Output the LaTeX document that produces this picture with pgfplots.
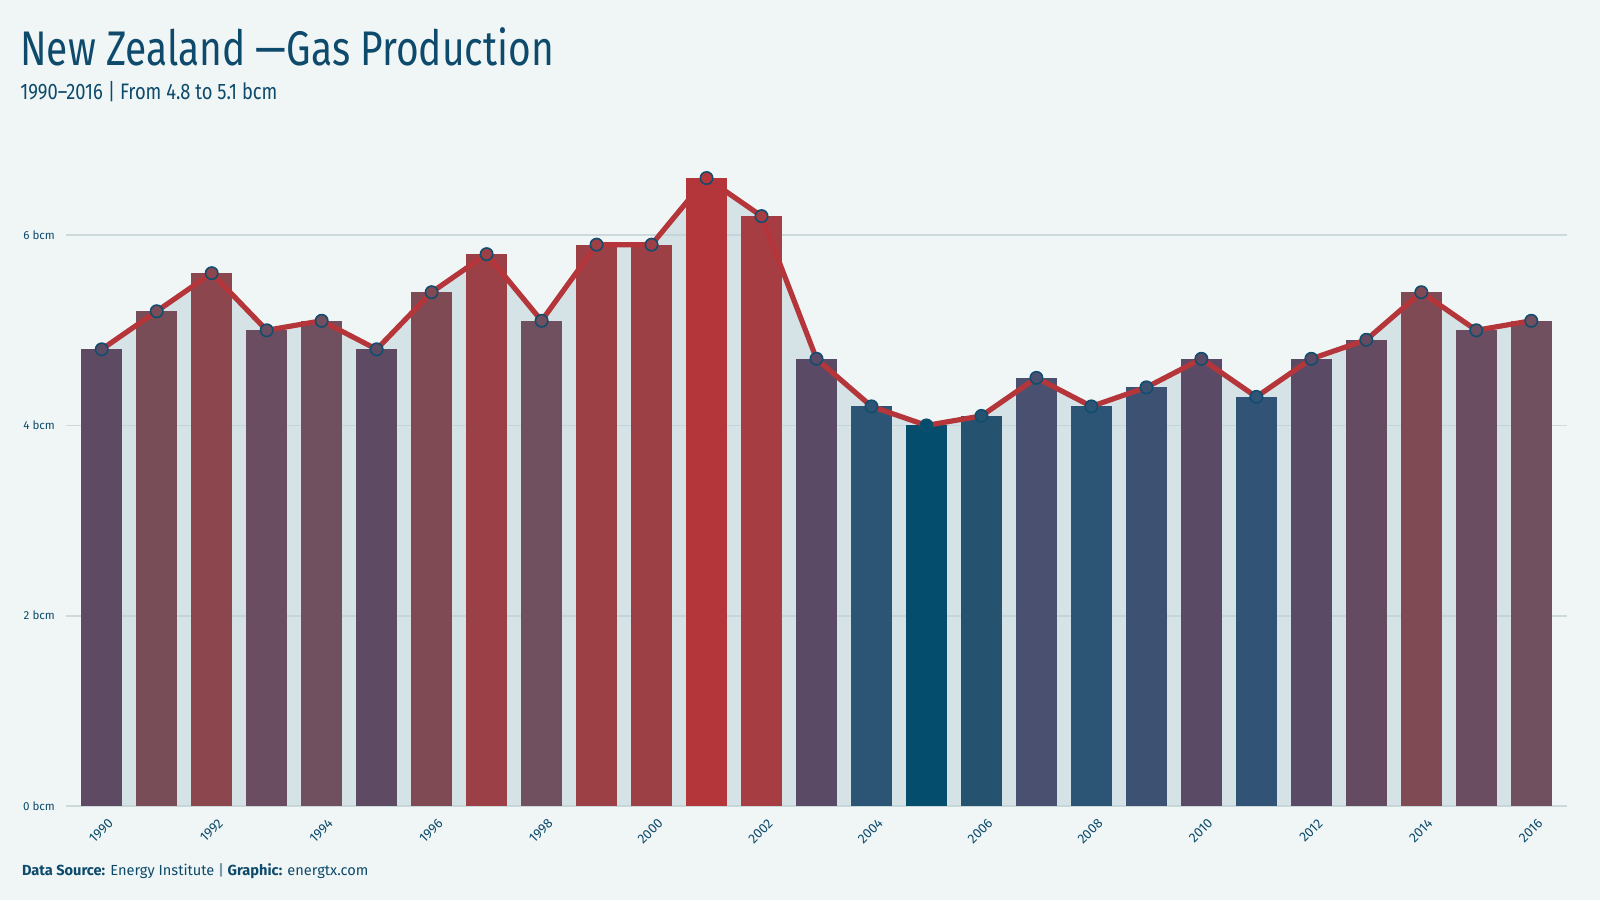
\documentclass[border=0pt]{standalone}
\usepackage{pgfplots}
\pgfplotsset{compat=1.18}
\usepackage{fontspec}
\setmainfont{Fira Sans}
\newfontfamily\titlefont[FakeStretch=0.80]{Fira Sans}
\newfontfamily\subfont[FakeStretch=0.82]{Fira Sans}
\definecolor{bg}{HTML}{F0F6F6}
\definecolor{txt}{HTML}{0D4A6B}
\definecolor{gridc}{HTML}{CDD9DB}
\definecolor{areac}{HTML}{BCD2D8}
\definecolor{linec}{HTML}{B5363A}
\definecolor{edgec}{HTML}{114D6E}
\definecolor{v40}{HTML}{054D6C}
\definecolor{v41}{HTML}{24526F}
\definecolor{v42}{HTML}{2C5474}
\definecolor{v43}{HTML}{315375}
\definecolor{v44}{HTML}{3D5272}
\definecolor{v45}{HTML}{4A5070}
\definecolor{v47}{HTML}{5A4A66}
\definecolor{v48}{HTML}{5E4B63}
\definecolor{v49}{HTML}{644B62}
\definecolor{v50}{HTML}{6A4D60}
\definecolor{v51}{HTML}{704F5E}
\definecolor{v52}{HTML}{784D58}
\definecolor{v54}{HTML}{7F4A54}
\definecolor{v56}{HTML}{8C464D}
\definecolor{v58}{HTML}{9A4046}
\definecolor{v59}{HTML}{9C4046}
\definecolor{v62}{HTML}{A63D43}
\definecolor{v66}{HTML}{B5363A}
\begin{document}
\begin{tikzpicture}
\path[use as bounding box, fill=bg] (0,0) rectangle (800pt,450pt);
\node[anchor=base west, inner sep=0pt, text=txt, font=\titlefont\fontsize{24.3}{28}\selectfont] at (10pt,417pt) {New Zealand —Gas Production};
\node[anchor=base west, inner sep=0pt, text=txt, font=\subfont\fontsize{11.2}{13}\selectfont] at (10pt,400pt) {1990–2016 | From 4.8 to 5.1 bcm};
\node[anchor=base west, inner sep=0pt, text=txt, font=\fontsize{7.3}{9}\selectfont] at (10.8pt,12.5pt) {\textbf{Data Source:} Energy Institute {\color{txt!55}\textbf{|}} \textbf{Graphic:} energtx.com};
\begin{axis}[
  at={(33pt,47pt)}, anchor=south west,
  scale only axis, width=750.5pt, height=333pt,
  xmin=1989.35, xmax=2016.65, ymin=0, ymax=7,
  axis line style={draw=none}, major tick length=0pt,
  ytick={0,2,4,6}, xtick={1990,1992,...,2016},
  ymajorgrids, grid style={gridc, line width=0.9pt},
  /pgf/number format/assume math mode=true,
  /pgf/number format/1000 sep={},
  yticklabel={\pgfmathprintnumber{\tick} bcm},
  yticklabel style={font=\fontsize{5.8}{7}\selectfont, text=txt, xshift=-2pt},
  xticklabel style={font=\fontsize{6.7}{7}\selectfont, text=txt, rotate=45, anchor=north east, inner sep=1pt, xshift=-1pt, yshift=-5pt},
  clip=false,
]
\addplot[fill=areac, fill opacity=0.5, draw=none] coordinates {
(1990,4.8)(1991,5.2)(1992,5.6)(1993,5.0)(1994,5.1)(1995,4.8)(1996,5.4)(1997,5.8)(1998,5.1)(1999,5.9)(2000,5.9)(2001,6.6)(2002,6.2)(2003,4.7)(2004,4.2)(2005,4.0)(2006,4.1)(2007,4.5)(2008,4.2)(2009,4.4)(2010,4.7)(2011,4.3)(2012,4.7)(2013,4.9)(2014,5.4)(2015,5.0)(2016,5.1)
} \closedcycle;
\def\B#1#2#3{\addplot[ybar, bar width=0.74, bar shift=0pt, fill=#3, draw=none] coordinates {(#1,#2)};}
\B{1990}{4.8}{v48}
\B{1991}{5.2}{v52}
\B{1992}{5.6}{v56}
\B{1993}{5.0}{v50}
\B{1994}{5.1}{v51}
\B{1995}{4.8}{v48}
\B{1996}{5.4}{v54}
\B{1997}{5.8}{v58}
\B{1998}{5.1}{v51}
\B{1999}{5.9}{v59}
\B{2000}{5.9}{v59}
\B{2001}{6.6}{v66}
\B{2002}{6.2}{v62}
\B{2003}{4.7}{v47}
\B{2004}{4.2}{v42}
\B{2005}{4.0}{v40}
\B{2006}{4.1}{v41}
\B{2007}{4.5}{v45}
\B{2008}{4.2}{v42}
\B{2009}{4.4}{v44}
\B{2010}{4.7}{v47}
\B{2011}{4.3}{v43}
\B{2012}{4.7}{v47}
\B{2013}{4.9}{v49}
\B{2014}{5.4}{v54}
\B{2015}{5.0}{v50}
\B{2016}{5.1}{v51}
\addplot[linec, line width=2.6pt, line join=round] coordinates {
(1990,4.8)(1991,5.2)(1992,5.6)(1993,5.0)(1994,5.1)(1995,4.8)(1996,5.4)(1997,5.8)(1998,5.1)(1999,5.9)(2000,5.9)(2001,6.6)(2002,6.2)(2003,4.7)(2004,4.2)(2005,4.0)(2006,4.1)(2007,4.5)(2008,4.2)(2009,4.4)(2010,4.7)(2011,4.3)(2012,4.7)(2013,4.9)(2014,5.4)(2015,5.0)(2016,5.1)
};
\addplot[only marks, scatter, point meta=explicit symbolic, mark=*, mark size=3.1pt,
  scatter/classes={
    v40={mark=*, fill=v40, draw=edgec, line width=0.8pt},
    v41={mark=*, fill=v41, draw=edgec, line width=0.8pt},
    v42={mark=*, fill=v42, draw=edgec, line width=0.8pt},
    v43={mark=*, fill=v43, draw=edgec, line width=0.8pt},
    v44={mark=*, fill=v44, draw=edgec, line width=0.8pt},
    v45={mark=*, fill=v45, draw=edgec, line width=0.8pt},
    v47={mark=*, fill=v47, draw=edgec, line width=0.8pt},
    v48={mark=*, fill=v48, draw=edgec, line width=0.8pt},
    v49={mark=*, fill=v49, draw=edgec, line width=0.8pt},
    v50={mark=*, fill=v50, draw=edgec, line width=0.8pt},
    v51={mark=*, fill=v51, draw=edgec, line width=0.8pt},
    v52={mark=*, fill=v52, draw=edgec, line width=0.8pt},
    v54={mark=*, fill=v54, draw=edgec, line width=0.8pt},
    v56={mark=*, fill=v56, draw=edgec, line width=0.8pt},
    v58={mark=*, fill=v58, draw=edgec, line width=0.8pt},
    v59={mark=*, fill=v59, draw=edgec, line width=0.8pt},
    v62={mark=*, fill=v62, draw=edgec, line width=0.8pt},
    v66={mark=*, fill=v66, draw=edgec, line width=0.8pt}}
] coordinates {
(1990,4.8)[v48](1991,5.2)[v52](1992,5.6)[v56](1993,5.0)[v50](1994,5.1)[v51](1995,4.8)[v48](1996,5.4)[v54](1997,5.8)[v58](1998,5.1)[v51](1999,5.9)[v59](2000,5.9)[v59](2001,6.6)[v66](2002,6.2)[v62](2003,4.7)[v47](2004,4.2)[v42](2005,4.0)[v40](2006,4.1)[v41](2007,4.5)[v45](2008,4.2)[v42](2009,4.4)[v44](2010,4.7)[v47](2011,4.3)[v43](2012,4.7)[v47](2013,4.9)[v49](2014,5.4)[v54](2015,5.0)[v50](2016,5.1)[v51]
};
\end{axis}
\end{tikzpicture}
\end{document}
